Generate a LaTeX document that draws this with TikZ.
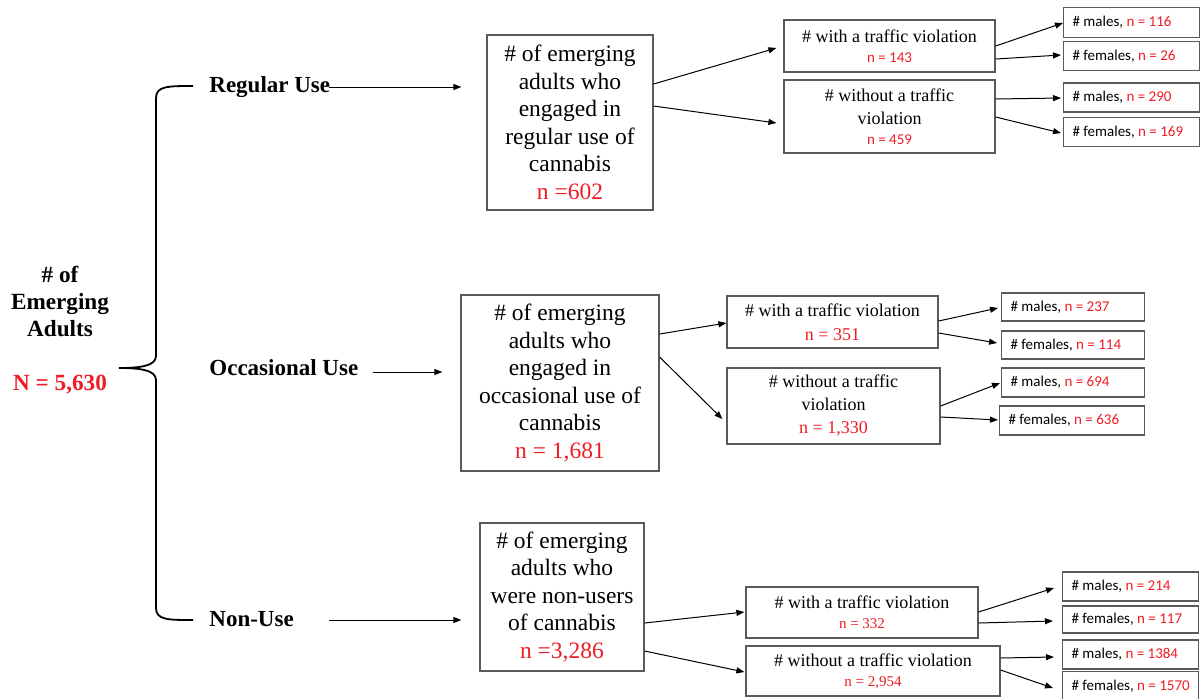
\documentclass[tikz,border=0pt]{standalone}
\usepackage{fontspec}
\setmainfont{Liberation Serif}
\newfontfamily\carl{Carlito}
\usetikzlibrary{arrows.meta}
\definecolor{mred}{RGB}{238,28,37}
\definecolor{bgray}{RGB}{90,90,90}
\newcommand{\sbtext}[3]{\makebox[#1][l]{\# #2, \textcolor{mred}{n = #3}}}
\begin{document}
\begin{tikzpicture}[x=0.5pt,y=-0.5pt,
 arr/.style={-{Triangle[length=4pt,width=3pt]}, line width=0.5pt},
 bigbox/.style={draw=bgray, line width=0.6pt, align=center, font=\fontsize{11.75}{13.75}\selectfont, inner sep=0pt},
 midbox/.style={draw=bgray, line width=0.6pt, align=center, font=\fontsize{9}{11.5}\selectfont, inner sep=0pt},
 smallbox/.style={draw=bgray, line width=0.6pt, anchor=west, font=\carl\fontsize{7.5}{9}\selectfont, inner xsep=4.5pt, inner ysep=0pt, minimum height=14.5pt},
 cat/.style={font=\bfseries\fontsize{11.5}{13.5}\selectfont, anchor=west, inner sep=0pt},
 rootst/.style={font=\bfseries\fontsize{11.6}{13.5}\selectfont, align=center, inner sep=0pt},
]
\useasboundingbox (0,0) rectangle (1201,698);

% root
\node[rootst] (root) at (60,330) {\# of\\Emerging\\Adults\\[13.5pt]\textcolor{mred}{N = 5,630}};

% brace
\draw[line width=0.9pt] (193,86) .. controls (168,86) and (156,86) .. (156,98) -- (156,356)
  .. controls (156,366) and (140,368) .. (119,368)
  .. controls (140,368) and (156,370) .. (156,380) -- (156,608)
  .. controls (156,620) and (168,620) .. (193,620);

% categories
\node[cat] (RU) at (209,87) {Regular Use};
\node[cat] (OU) at (209,368) {Occasional Use};
\node[cat] (NU) at (209,619) {Non-Use};

% level 1
\node[bigbox, minimum width=83pt, minimum height=87.5pt] (R1) at (570,122.5)
 {\# of emerging\\adults who\\engaged in\\regular use of\\cannabis\\\textcolor{mred}{n =602}};
\node[bigbox, minimum width=99pt, minimum height=88pt] (O1) at (560,383)
 {\# of emerging\\adults who\\engaged in\\occasional use of\\cannabis\\\textcolor{mred}{n = 1,681}};
\node[bigbox, minimum width=82pt, minimum height=74pt] (N1) at (562,597)
 {\# of emerging\\adults who\\were non-users\\of cannabis\\\textcolor{mred}{n =3,286}};

\draw[arr] ([xshift=-1pt]RU.east |- 0,87) -- ([xshift=-12.5pt]R1.west |- 0,87);
\draw[arr] ([xshift=7pt]OU.east |- 0,372) -- ([xshift=-9pt]O1.west |- 0,372);
\draw[arr] ([xshift=17.5pt]NU.east |- 0,620) -- ([xshift=-9pt]N1.west |- 0,620);

% level 2
\node[midbox, minimum width=105.5pt, minimum height=26pt] (R2a) at (889.5,46)
 {\# with a traffic violation\\[-1.5pt]{\carl\fontsize{7.5}{9}\selectfont\color{mred}n = 143}};
\node[midbox, minimum width=105.5pt, minimum height=36.5pt] (R2b) at (889.5,116.5)
 {\# without a traffic\\violation\\[-1.5pt]{\carl\fontsize{7.5}{9}\selectfont\color{mred}n = 459}};
\node[midbox, minimum width=105.5pt, minimum height=26pt] (O2a) at (832.5,322)
 {\# with a traffic violation\\[0.5pt]{\color{mred}n = 351}};
\node[midbox, minimum width=106.5pt, minimum height=38pt] (O2b) at (833.5,406)
 {\# without a traffic\\violation\\{\color{mred}n = 1,330}};
\node[midbox, minimum width=116pt, minimum height=25.5pt] (N2a) at (862,612.5)
 {\# with a traffic violation\\[-1.5pt]{\fontsize{7.5}{9}\selectfont\color{mred}n = 332}};
\node[midbox, minimum width=127pt, minimum height=25pt] (N2b) at (873,671)
 {\# without a traffic violation\\[-1.5pt]{\fontsize{7.5}{9}\selectfont\color{mred}n = 2,954}};

\draw[arr] (R1.east |- 0,84) -- ([xshift=-3.5pt]R2a.west |- 0,48);
\draw[arr] (R1.east |- 0,106) -- ([xshift=-3.5pt]R2b.west |- 0,123);
\draw[arr] (O1.east |- 0,334) -- (O2a.west |- 0,323);
\draw[arr] (O1.east |- 0,357) -- ([xshift=-2pt]O2b.west |- 0,419);
\draw[arr] (N1.east |- 0,623) -- ([xshift=-0.5pt]N2a.west |- 0,612);
\draw[arr] (N1.east |- 0,651) -- ([xshift=-0.5pt]N2b.west |- 0,672);

% level 3
\node[smallbox, minimum height=15pt] (Rm1) at (1063,22.5) {\sbtext{59pt}{males}{116}};
\node[smallbox] (Rf1) at (1063,56) {\sbtext{59pt}{females}{26}};
\node[smallbox] (Rm2) at (1063,97.5) {\sbtext{59pt}{males}{290}};
\node[smallbox] (Rf2) at (1063,132) {\sbtext{59pt}{females}{169}};

\node[smallbox, minimum height=14pt] (Om1) at (1001,307) {\sbtext{62.5pt}{males}{237}};
\node[smallbox, minimum height=14pt] (Of1) at (1001,345) {\sbtext{62.5pt}{females}{114}};
\node[smallbox] (Om2) at (1001,382.5) {\sbtext{62.5pt}{males}{694}};
\node[smallbox] (Of2) at (999,420.5) {\sbtext{63.5pt}{females}{636}};

\node[smallbox] (Nm1) at (1062,586.5) {\sbtext{59pt}{males}{214}};
\node[smallbox, minimum height=13.5pt] (Nf1) at (1062,619.5) {\sbtext{59pt}{females}{117}};
\node[smallbox] (Nm2) at (1062,654.5) {\sbtext{59pt}{males}{1384}};
\node[smallbox] (Nf2) at (1062,686) {\sbtext{59pt}{females}{1570}};

\draw[arr] (R2a.east |- 0,46) -- (Rm1.west |- 0,23);
\draw[arr] (R2a.east |- 0,59) -- ([xshift=-1pt]Rf1.west |- 0,55);
\draw[arr] (R2b.east |- 0,99) -- ([xshift=-1pt]Rm2.west |- 0,98);
\draw[arr] (R2b.east |- 0,117) -- ([xshift=-1pt]Rf2.west |- 0,133);

\draw[arr] (O2a.east |- 0,321) -- ([xshift=-1.5pt]Om1.west |- 0,308);
\draw[arr] (O2a.east |- 0,333) -- ([xshift=-2pt]Of1.west |- 0,343);
\draw[arr] (O2b.east |- 0,406) -- ([xshift=-0.5pt]Om2.west |- 0,383);
\draw[arr] (O2b.east |- 0,417) -- ([xshift=-0.5pt]Of2.west |- 0,420);

\draw[arr] (N2a.east |- 0,612) -- ([xshift=-4pt]Nm1.west |- 0,588);
\draw[arr] (N2a.east |- 0,623) -- ([xshift=-4.5pt]Nf1.west |- 0,621);
\draw[arr] (N2b.east |- 0,658) -- ([xshift=-4pt]Nm2.west |- 0,657);
\draw[arr] (N2b.east |- 0,670) -- ([xshift=-4.5pt]Nf2.west |- 0,688);
\end{tikzpicture}
\end{document}
